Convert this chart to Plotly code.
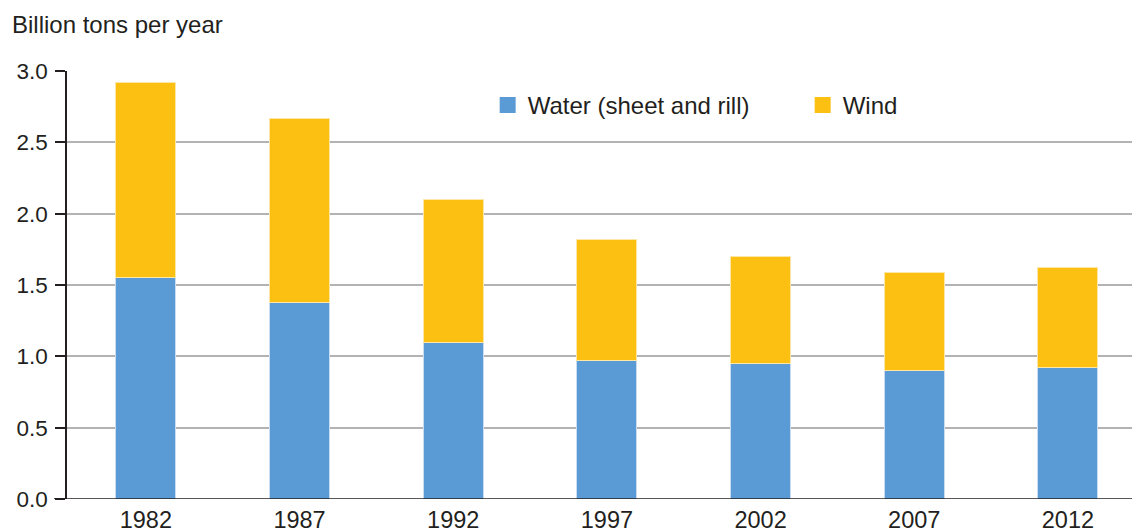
import plotly.graph_objects as go

years = ["1982", "1987", "1992", "1997", "2002", "2007", "2012"]
water = [1.55, 1.38, 1.10, 0.97, 0.95, 0.90, 0.92]
wind = [1.37, 1.29, 1.00, 0.85, 0.75, 0.69, 0.70]

BLUE = "#5b9bd5"
YELLOW = "#fbc012"
TEXT = "#231f20"
FONT = "Liberation Sans, Arial, Helvetica, sans-serif"

fig = go.Figure()
fig.add_trace(go.Bar(x=years, y=water, name="Water (sheet and rill)",
                     marker=dict(color=BLUE, line=dict(color="#c9dcf0", width=1)),
                     width=0.39, showlegend=False))
fig.add_trace(go.Bar(x=years, y=wind, name="Wind",
                     marker=dict(color=YELLOW, line=dict(color="#fde7a6", width=1)),
                     width=0.39, showlegend=False))

# legend entries with larger square swatches
for name, color in [("Water (sheet and rill)", BLUE), ("Wind", YELLOW)]:
    fig.add_trace(go.Scatter(x=[None], y=[None], mode="markers", name=name,
                             marker=dict(symbol="square", size=19, color=color,
                                         line=dict(width=0))))

fig.update_layout(
    barmode="stack",
    width=1132, height=529,
    margin=dict(l=67, r=0, t=71, b=30, autoexpand=False),
    plot_bgcolor="white", paper_bgcolor="white",
    font=dict(family=FONT, size=23, color=TEXT),
    legend=dict(orientation="h", x=0.395, y=0.972, xanchor="left", yanchor="top",
                font=dict(size=24, color=TEXT), entrywidth=270,
                traceorder="normal",
                bgcolor="rgba(0,0,0,0)", itemsizing="trace"),
    annotations=[dict(text="Billion tons per year", xref="paper", yref="paper",
                      x=-0.0535, y=1.0, yshift=47, xanchor="left", yanchor="middle",
                      showarrow=False, font=dict(size=24, color=TEXT))],
    shapes=[dict(type="line", xref="paper", yref="y", x0=-0.0122, x1=1, y0=0, y1=0,
                 line=dict(color="#231f20", width=1.5))],
)
fig.update_xaxes(range=[-0.513, 6.417], showgrid=False, showline=False, ticks="",
                 automargin=False,
                 tickfont=dict(size=23.5, color=TEXT), ticklabelstandoff=4)
fig.update_yaxes(range=[0, 3], dtick=0.5, tickformat=".1f", showgrid=True,
                 gridcolor="#b3b3b3", gridwidth=1.5, zeroline=False,
                 showline=True, linecolor="#231f20", linewidth=1.5,
                 ticks="outside", ticklen=10, tickcolor="#231f20", tickwidth=1.5,
                 ticklabelstandoff=3, automargin=False,
                 tickfont=dict(size=22.5, color=TEXT))

fig.write_html("out.html")
